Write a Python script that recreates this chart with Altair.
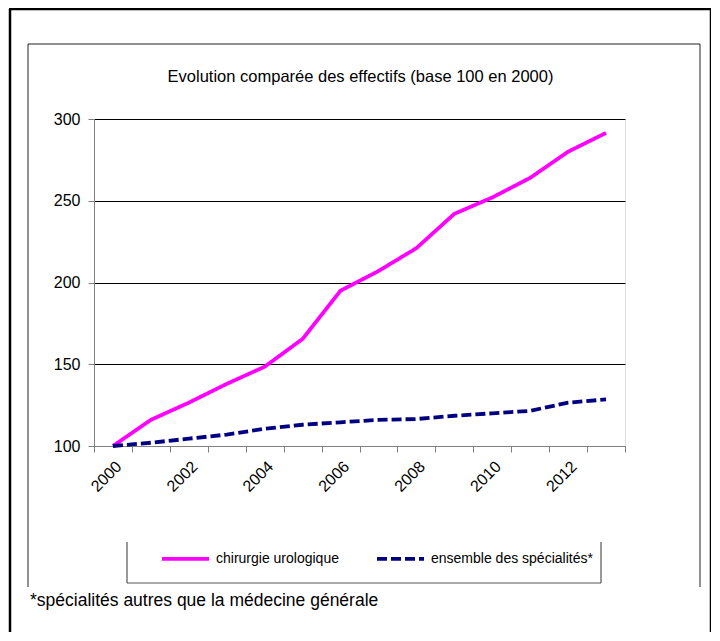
import altair as alt
import pandas as pd

years = list(range(2000, 2014))
uro = [100, 116, 126.5, 138, 148.5, 165.5, 195, 207, 221, 242, 252, 264, 280, 291.5]
ens = [100, 102, 104.5, 107, 110.5, 113, 114.5, 116, 116.5, 118.5, 120, 121.5, 126.5, 128.5]
series_names = ["chirurgie urologique", "ensemble des spécialités*"]
series_colors = ["#FF00FF", "#000080"]
series_dash = [[1, 0], [10, 4]]
y_ticks = [100, 150, 200, 250, 300]
title_text = "Evolution comparée des effectifs  (base 100 en 2000)"
footnote_text = "*spécialités autres que la médecine générale"

rows = []
for name, vals in zip(series_names, [uro, ens]):
    for yr, v in zip(years, vals):
        rows.append({"year": yr, "value": v, "series": name})
df = pd.DataFrame(rows)
one = pd.DataFrame({"k": [0]})

FONT = "Liberation Sans"

legend_cfg = dict(
    title=None, orient="none", legendX=66, legendY=414, direction="horizontal",
    symbolType="stroke", symbolSize=2209, symbolStrokeWidth=3.8,
    labelFont=FONT, labelFontSize=14, labelColor="black", labelLimit=400,
    columnPadding=30, padding=0, labelOffset=5,
)

lines = alt.Chart(df).mark_line(strokeWidth=3.8).encode(
    x=alt.X(
        "year:O",
        scale=alt.Scale(type="band", paddingInner=0, paddingOuter=0),
        bandPosition=0.5,
        axis=alt.Axis(
            title=None, tickBand="extent", labelAngle=-45,
            labelExpr="datum.value % 2 == 0 ? datum.label : ''",
            labelOverlap=False, domainColor="#808080", tickColor="#808080",
            tickSize=6, labelFont=FONT, labelFontSize=16, labelColor="black",
            labelPadding=6, grid=False,
        ),
    ),
    y=alt.Y(
        "value:Q",
        scale=alt.Scale(domain=[100, 300], nice=False, zero=False),
        axis=alt.Axis(
            title=None, values=y_ticks, grid=True, gridColor="black", gridOpacity=1,
            domainColor="#808080", tickColor="#808080", tickSize=6, labelPadding=8,
            labelFont=FONT, labelFontSize=16, labelColor="black",
        ),
    ),
    color=alt.Color(
        "series:N",
        scale=alt.Scale(domain=series_names, range=series_colors),
        legend=alt.Legend(**legend_cfg),
    ),
    strokeDash=alt.StrokeDash(
        "series:N",
        scale=alt.Scale(domain=series_names, range=series_dash),
        legend=alt.Legend(**legend_cfg),
    ),
)


def rule(x1, x2, y1, y2, color, w):
    return alt.Chart(one).mark_rule(color=color, strokeWidth=w).encode(
        x=alt.value(x1), x2=alt.value(x2), y=alt.value(y1), y2=alt.value(y2)
    )


decor = [
    # outer frame
    rule(-85, 617, -110, -110, "black", 2.5),
    rule(-84, -84, -110, 514, "black", 2.5),
    rule(617, 617, -110, 514, "black", 2.5),
    # inner chart frame
    rule(-66, 606, -75, -75, "#222222", 1),
    rule(-66, -66, -75, 468, "#222222", 1),
    rule(606, 606, -75, 468, "#222222", 1),
    # legend box (no top edge, as in the original)
    rule(33, 33, 423, 464, "#555555", 1.2),
    rule(507, 507, 423, 464, "#555555", 1.2),
    rule(33, 507, 464, 464, "#555555", 1.2),
]

title = alt.Chart(one).mark_text(
    text=title_text, font=FONT, fontSize=16.5, align="center", baseline="middle", color="black"
).encode(x=alt.value(266.5), y=alt.value(-42))

foot = alt.Chart(one).mark_text(
    text=footnote_text, font=FONT, fontSize=17.5, align="left", baseline="middle", color="black"
).encode(x=alt.value(-64), y=alt.value(482))

chart = alt.layer(*decor, lines, title, foot).properties(
    width=531, height=327,
    autosize=alt.AutoSizeParams(type="none"),
    padding={"left": 86, "top": 111, "right": 86, "bottom": 186},
).configure_view(stroke="#808080").configure(background="white")

chart.save("out.html", embed_options={"renderer": "svg", "actions": False})
